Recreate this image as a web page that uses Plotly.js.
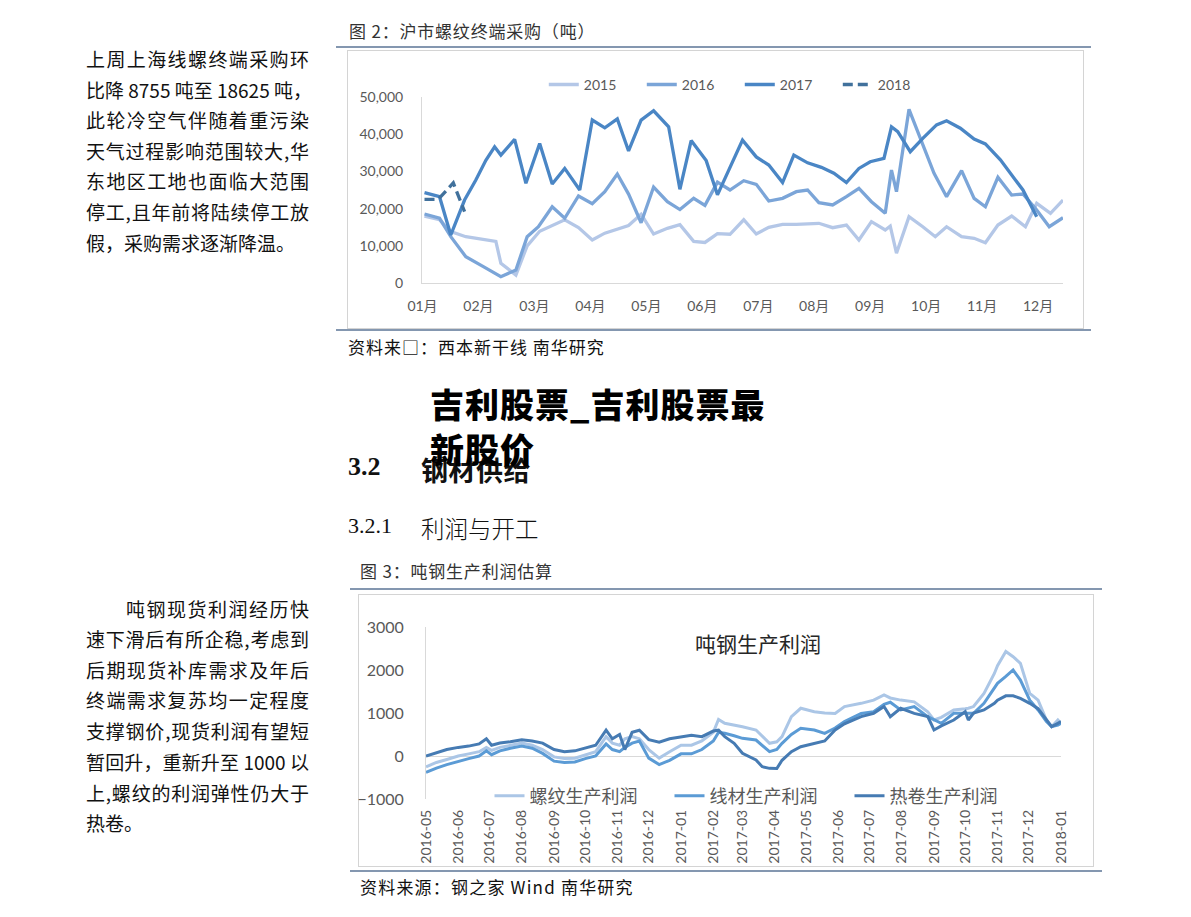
<!DOCTYPE html>
<html lang="zh">
<head>
<meta charset="UTF-8">
<title>沪市螺纹终端采购 / 吨钢生产利润估算</title>
<script src="https://cdn.plot.ly/plotly-3.0.1.min.js"></script>
<style>
    body {
        margin: 0;
        width: 1191px;
        height: 917px;
        position: relative;
        overflow: hidden;
        background: #fff;
        font-family: "Noto Sans CJK SC", sans-serif;
        color: #111;
    }
    .ln {
        position: absolute;
        left: 86px;
        width: 223px;
        height: 31px;
        line-height: 31px;
        font-size: 19px;
        white-space: nowrap;
    }
    .just { text-align: justify; text-align-last: justify; }
    .cap {
        position: absolute;
        font-size: 17px;
        letter-spacing: 0.8px;
        line-height: 20px;
        color: #333;
        white-space: nowrap;
    }
    .rule { position: absolute; height: 2px; background: #8497b0; }
    .box { position: absolute; border: 1.5px solid #d4d4d4; box-sizing: border-box; }
    .plot { position: absolute; }
    .big {
        position: absolute;
        left: 430px;
        font-size: 34px;
        font-weight: 900;
        letter-spacing: 1px;
        color: #000;
        line-height: 45px;
        white-space: nowrap;
        z-index: 5;
    }
    .sec { position: absolute; white-space: nowrap; color: #111; }
</style>
</head>
<body>

<!-- left text, paragraph 1 -->
<div class="ln just" style="top:43px">上周上海线螺终端采购环</div>
<div class="ln just" style="top:74px">比降 8755 吨至 18625 吨，</div>
<div class="ln just" style="top:104px">此轮冷空气伴随着重污染</div>
<div class="ln just" style="top:135px">天气过程影响范围较大,华</div>
<div class="ln just" style="top:165px">东地区工地也面临大范围</div>
<div class="ln just" style="top:196px">停工,且年前将陆续停工放</div>
<div class="ln" style="top:227px">假，采购需求逐渐降温。</div>

<!-- left text, paragraph 2 -->
<div class="ln just" style="top:593px;left:126px;width:183px">吨钢现货利润经历快</div>
<div class="ln just" style="top:623px">速下滑后有所企稳,考虑到</div>
<div class="ln just" style="top:654px">后期现货补库需求及年后</div>
<div class="ln just" style="top:684px">终端需求复苏均一定程度</div>
<div class="ln just" style="top:715px">支撑钢价,现货利润有望短</div>
<div class="ln just" style="top:746px">暂回升，重新升至 1000 以</div>
<div class="ln just" style="top:777px">上,螺纹的利润弹性仍大于</div>
<div class="ln" style="top:807px">热卷。</div>

<!-- figure 2 -->
<div class="cap" style="left:349px;top:21px">图 2：沪市螺纹终端采购（吨）</div>
<div class="rule" style="left:336px;top:46px;width:755px"></div>
<div class="box" style="left:347px;top:50px;width:737px;height:279px"></div>
<div class="plot" id="chart1" style="left:347px;top:50px;width:736px;height:278px"></div>
<div class="rule" style="left:336px;top:329px;width:755px"></div>
<div class="cap" style="left:348px;top:337px;color:#111;letter-spacing:1px">资料来□：西本新干线 南华研究</div>

<!-- headings -->
<div class="sec" style="left:348px;top:452px;font-family:'Liberation Serif',serif;font-weight:bold;font-size:26px">3.2</div>
<div class="sec" style="left:421px;top:450px;font-family:'Noto Sans CJK SC';font-weight:700;font-size:27px;letter-spacing:0.5px">钢材供给</div>
<div class="big" style="top:381px">吉利股票_吉利股票最</div>
<div class="big" style="top:426px">新股价</div>
<div class="sec" style="left:348px;top:513px;font-family:'Liberation Serif',serif;font-size:22px">3.2.1</div>
<div class="sec" style="left:421px;top:511px;font-family:'Noto Sans CJK SC';font-weight:300;font-size:23.5px">利润与开工</div>

<!-- figure 3 -->
<div class="cap" style="left:360px;top:561px">图 3：吨钢生产利润估算</div>
<div class="rule" style="left:350px;top:588px;width:752px"></div>
<div class="box" style="left:358px;top:594px;width:736px;height:273px"></div>
<div class="plot" id="chart2" style="left:358px;top:594px;width:735px;height:272px"></div>
<div class="rule" style="left:350px;top:870px;width:752px"></div>
<div class="cap" style="left:360px;top:877px;color:#111;letter-spacing:1.2px">资料来源：钢之家 Wind 南华研究</div>

<script>
    // ---- 图2 沪市螺纹终端采购（吨），x = 第几周 ----
    const months = ['01月', '02月', '03月', '04月', '05月', '06月', '07月', '08月', '09月', '10月', '11月', '12月'];

    const wk2015 = [0, 1.2, 2.1, 3.3, 5.7, 6.1, 7.3, 8.2, 9.2, 11.2, 12.3, 13.4, 14.4, 15.4, 16.3, 17.3, 18.3, 19.4, 20.4, 21.5,
        22.4, 23.4, 24.4, 25.5, 26.5, 27.5, 28.6, 29.7, 30.6, 31.5, 32.6, 33.7, 34.7, 35.7, 36.8, 37.2, 37.7, 38.7, 39.8, 40.8,
        41.7, 42.9, 43.9, 44.8, 45.8, 46.9, 48.0, 48.9, 50.0, 51.0];
    const v2015 = [18000, 17000, 13800, 12450, 11200, 5300, 2150, 10000, 13900, 17000, 14900, 11560, 13400, 14400, 15450, 18500,
        13170, 14700, 15700, 11200, 10900, 13250, 13100, 17000, 13170, 14970, 15780, 15780, 15860, 16050, 14870, 15590, 11560,
        16480, 14250, 15300, 8000, 17820, 15130, 12450, 15130, 12450, 12020, 10830, 15590, 18010, 15130, 21420, 18730, 22310];

    const wk2016 = [0, 1.2, 2.1, 3.3, 4.7, 6.1, 7.3, 8.2, 9.1, 10.2, 11.2, 12.3, 13.4, 14.4, 15.4, 16.3, 17.3, 18.3, 19.4, 20.4,
        21.5, 22.4, 23.4, 24.4, 25.5, 26.5, 27.5, 28.6, 29.7, 30.6, 31.5, 32.6, 33.7, 34.7, 35.7, 36.8, 37.3, 37.7, 38.7, 39.8,
        40.7, 41.7, 42.9, 43.9, 44.8, 45.8, 46.9, 47.8, 48.9, 49.9, 51.0];
    const v2016 = [18550, 17400, 12450, 7070, 4390, 1700, 3500, 12450, 15130, 20500, 17400, 23400, 21300, 24540, 29300, 23900,
        16200, 25800, 21860, 19750, 22760, 20870, 27100, 25000, 27500, 26530, 22040, 22760, 24540, 25000, 21590, 20970, 23200,
        25450, 21860, 18730, 30370, 24540, 46690, 37550, 29490, 23200, 30190, 22760, 20510, 28410, 23650, 23920, 19620, 15130, 17550];

    const wk2017 = [0, 1.2, 2.1, 3.2, 4.1, 4.9, 5.6, 6.1, 7.2, 8.1, 9.2, 10.2, 11.2, 12.4, 13.4, 14.4, 15.4, 16.3, 17.3, 18.3,
        19.5, 20.4, 21.3, 22.5, 23.4, 24.4, 25.4, 26.5, 27.5, 28.6, 29.5, 30.6, 31.7, 32.7, 33.7, 34.7, 35.6, 36.7, 37.3, 37.8,
        38.8, 39.8, 40.9, 41.7, 42.8, 43.9, 44.8, 46.0, 46.9, 47.8, 48.9];
    const v2017 = [24270, 23200, 12900, 22300, 27700, 33000, 36600, 34400, 38600, 26800, 37500, 26600, 30800, 25000, 43800, 41700,
        44100, 35500, 43800, 46300, 42000, 25200, 38300, 32900, 23700, 31300, 38400, 33900, 31700, 27000, 34400, 32300, 31100,
        29500, 27000, 30800, 32600, 33500, 42000, 40700, 35300, 38900, 42500, 43600, 41600, 38700, 37400, 33100, 29000, 25000, 17800];

    const wk2018 = [0, 1.1, 2.3, 3.2];
    const v2018 = [22500, 22500, 26900, 19200];

    // ---- 图3 吨钢生产利润（元/吨） ----
    const dates3 = ['2016-05-01', '2016-05-11', '2016-05-21', '2016-06-01', '2016-06-11', '2016-06-21', '2016-06-28',
        '2016-07-03', '2016-07-11', '2016-07-21', '2016-08-01', '2016-08-11', '2016-08-21', '2016-09-01', '2016-09-11',
        '2016-09-21', '2016-10-01', '2016-10-11', '2016-10-21', '2016-10-27', '2016-11-03', '2016-11-08', '2016-11-15',
        '2016-11-22', '2016-12-01', '2016-12-11', '2016-12-21', '2017-01-01', '2017-01-11', '2017-01-21', '2017-02-01',
        '2017-02-06', '2017-02-12', '2017-02-21', '2017-03-01', '2017-03-14', '2017-03-20', '2017-03-27', '2017-04-03',
        '2017-04-08', '2017-04-17', '2017-04-26', '2017-05-09', '2017-05-19', '2017-05-29', '2017-06-07', '2017-06-23',
        '2017-07-05', '2017-07-15', '2017-07-21', '2017-07-31', '2017-08-13', '2017-08-26', '2017-09-01', '2017-09-08',
        '2017-09-20', '2017-10-01', '2017-10-04', '2017-10-09', '2017-10-19', '2017-10-29', '2017-11-01', '2017-11-09',
        '2017-11-16', '2017-11-23', '2017-12-02', '2017-12-10', '2017-12-18', '2017-12-23', '2017-12-29', '2018-01-01'];
    const luowen = [-250, -150, -80, 0, 50, 100, 200, 130, 200, 250, 300, 250, 150, -20, -60, -50, 20, 100, 450, 300,
        250, 400, 450, 400, 150, -50, 100, 250, 250, 350, 550, 850, 760, 720, 682, 605, 450, 295, 330, 450,
        915, 1110, 1030, 1000, 990, 1150, 1225, 1300, 1420, 1350, 1300, 1260, 1030, 837, 900, 1070, 1100, 1110, 1150, 1457,
        1920, 2100, 2430, 2310, 2155, 1457, 1300, 837, 682, 837, 760];
    const xiancai = [-380, -280, -200, -120, -60, 0, 120, 30, 120, 180, 230, 180, 60, -120, -150, -140, -60, 0, 280, 150,
        100, 200, 300, 350, -50, -200, -100, 50, 50, 150, 350, 550, 527, 470, 411, 372, 250, 100, 150, 295,
        500, 643, 605, 527, 650, 800, 990, 1030, 1200, 1250, 1070, 1150, 915, 840, 760, 992, 992, 992, 992, 1225,
        1600, 1690, 1850, 2000, 1767, 1300, 1070, 800, 682, 720, 760];
    const rejuan = [0, 80, 150, 200, 230, 280, 400, 250, 300, 330, 380, 350, 300, 150, 100, 120, 180, 250, 600, 400,
        500, 150, 550, 600, 380, 320, 400, 450, 480, 450, 580, 600, 450, 295, 62, -93, -248, -287, -290, -100,
        100, 217, 295, 350, 605, 750, 915, 992, 1150, 915, 1110, 992, 915, 605, 700, 837, 1030, 837, 1000, 1070,
        1225, 1300, 1400, 1400, 1340, 1225, 1100, 850, 682, 760, 800];

    const numFont = 'Lato, "Noto Sans CJK SC", sans-serif';
    const grey = '#595959';

    function drawChart1() {
        const mk = (x, y, name, color, dash) => ({
            x: x, y: y, name: name, type: 'scatter', mode: 'lines',
            line: {color: color, width: 3.3, dash: dash || 'solid'}
        });
        const traces = [
            mk(wk2015, v2015, '2015', '#b4c7e7'),
            mk(wk2016, v2016, '2016', '#7ba5d8'),
            mk(wk2017, v2017, '2017', '#4a86c5'),
            mk(wk2018, v2018, '2018', '#41719c', '10px,5px')
        ];
        const layout = {
            width: 736, height: 278,
            margin: {l: 75, r: 20, t: 47, b: 45},
            paper_bgcolor: 'rgba(0,0,0,0)', plot_bgcolor: 'rgba(0,0,0,0)',
            font: {family: numFont, color: grey, size: 14},
            xaxis: {
                range: [-0.2, 51],
                tickvals: months.map((m, i) => i * 4.47 - 0.16),
                ticktext: months,
                showgrid: false, zeroline: false,
                showline: true, linecolor: '#d9d9d9', linewidth: 1,
                ticks: '', ticklabelstandoff: 10
            },
            yaxis: {
                range: [0, 50000], dtick: 10000, tickformat: ',',
                showgrid: false, zeroline: false,
                showline: true, linecolor: '#d9d9d9', linewidth: 1,
                ticks: '', ticklabelstandoff: 15
            },
            showlegend: true,
            legend: {
                orientation: 'h', x: 0.19, xanchor: 'left', y: 1.065, yanchor: 'middle',
                entrywidth: 53, entrywidthmode: 'pixels',
                font: {family: numFont, size: 14, color: grey},
                bgcolor: 'rgba(0,0,0,0)'
            }
        };
        Plotly.newPlot('chart1', traces, layout, {displayModeBar: false, staticPlot: true});
    }

    function drawChart2() {
        const mk = (y, name, color) => ({
            x: dates3, y: y, name: name, type: 'scatter', mode: 'lines',
            line: {color: color, width: 3}
        });
        const traces = [
            mk(luowen, '螺纹生产利润', '#abc6e6'),
            mk(xiancai, '线材生产利润', '#5b9bd5'),
            mk(rejuan, '热卷生产利润', '#467bb3')
        ];
        const layout = {
            width: 735, height: 272,
            margin: {l: 68, r: 32, t: 33, b: 67},
            paper_bgcolor: 'rgba(0,0,0,0)', plot_bgcolor: 'rgba(0,0,0,0)',
            font: {family: numFont, color: grey, size: 14},
            xaxis: {
                type: 'date', range: ['2016-05-01', '2018-01-01'],
                dtick: 'M1', tick0: '2016-05-01', tickformat: '%Y-%m', tickangle: -90,
                showgrid: false, zeroline: false, showline: false,
                ticks: '', ticklabelstandoff: 7,
                tickfont: {size: 14, color: grey}
            },
            yaxis: {
                range: [-1000, 3000], dtick: 1000,
                showgrid: false, zeroline: true, zerolinecolor: '#d9d9d9', zerolinewidth: 1,
                showline: true, linecolor: '#d9d9d9', linewidth: 1,
                ticks: '', ticklabelstandoff: 18,
                tickfont: {size: 16, color: grey}
            },
            annotations: [{
                text: '吨钢生产利润', xref: 'paper', yref: 'paper', x: 0.523, y: 0.907,
                xanchor: 'center', yanchor: 'middle', showarrow: false,
                font: {family: '"Noto Sans CJK SC", sans-serif', size: 21, color: '#262626'}
            }],
            showlegend: true,
            legend: {
                orientation: 'h', x: 0.1, xanchor: 'left', y: 0.017, yanchor: 'middle',
                entrywidth: 135, entrywidthmode: 'pixels',
                font: {family: '"Noto Sans CJK SC", sans-serif', size: 18, color: grey},
                bgcolor: 'rgba(0,0,0,0)'
            }
        };
        Plotly.newPlot('chart2', traces, layout, {displayModeBar: false, staticPlot: true});
    }

    drawChart1();
    drawChart2();
</script>
</body>
</html>
